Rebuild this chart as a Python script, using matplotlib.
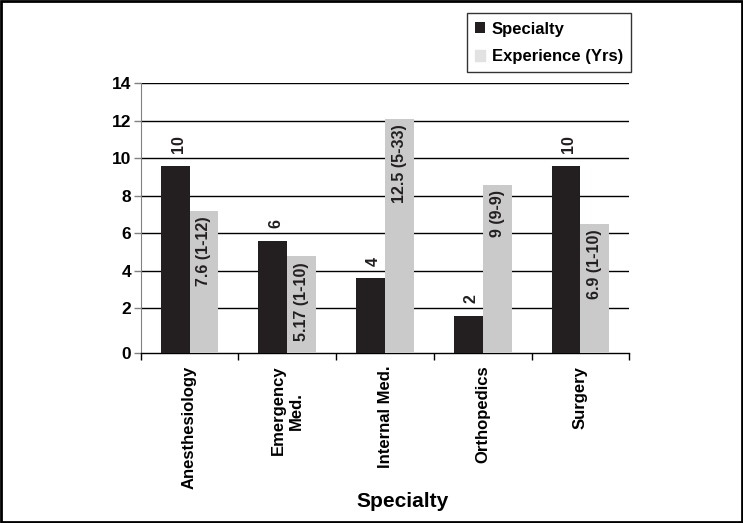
import matplotlib.pyplot as plt
import numpy as np

plt.rcParams['font.family'] = ['Liberation Sans', 'DejaVu Sans']
plt.rcParams['font.weight'] = 'bold'

categories = ['Anesthesiology', 'Emergency\nMed.', 'Internal Med.', 'Orthopedics', 'Surgery']
specialty = [10, 6, 4, 2, 10]
experience = [7.6, 5.17, 12.5, 9, 6.9]
range_labels = ['(1-12)', '(1-10)', '(5-33)', '(9-9)', '(1-10)']
yticks = [0, 2, 4, 6, 8, 10, 12, 14]

# the source chart draws its zero line a little below the gridline spacing
base = -0.4

fig = plt.figure(figsize=(7.43, 5.23), dpi=100)
ax = fig.add_axes([140.7 / 743, 1 - 353.3 / 523, (629.3 - 140.7) / 743, 270 / 523])

x = np.arange(len(categories))
w = 0.295
b1 = ax.bar(x - w / 2, specialty, w, bottom=base, color='#231f20', label='Specialty', zorder=3)
b2 = ax.bar(x + w / 2, experience, w, bottom=base, color='#cacaca', label='Experience (Yrs)', zorder=3)

for rect, v in zip(b1, specialty):
    ax.annotate(str(v), (rect.get_x() + rect.get_width() / 2 + 0.03, base + v),
                xytext=(0, 9), textcoords='offset points', rotation=90,
                ha='center', va='bottom', fontsize=11.5, fontweight='bold', color='#231f20')
for rect, v, r in zip(b2, experience, range_labels):
    ax.annotate(f'{v:g} {r}', (rect.get_x() + rect.get_width() / 2, base + v),
                xytext=(0, -4), textcoords='offset points', rotation=90,
                ha='center', va='top', fontsize=11.5, fontweight='bold', color='#231f20')

ax.set_xlim(-0.5, len(categories) - 0.5)
ax.set_ylim(base, 14)
ax.set_yticks([base] + yticks[1:])
ax.set_yticklabels([str(t) for t in yticks], fontweight='bold')
ax.tick_params(axis='y', labelsize=12.5, length=5, width=1, color='#808080', pad=2)
ax.set_xticks(np.arange(-0.5, len(categories), 1))
ax.set_xticklabels([])
ax.set_xticks(x, minor=True)
ax.set_xticklabels(categories, minor=True, rotation=90, fontsize=12, fontweight='bold',
                   va='top', ha='center', multialignment='center')
ax.tick_params(axis='x', which='major', length=5, width=1, direction='out')
ax.tick_params(axis='x', which='minor', length=0, pad=9)
for y in yticks[1:]:
    ax.axhline(y, color='black', linewidth=1, zorder=0)
ax.spines['top'].set_visible(False)
ax.spines['right'].set_visible(False)
ax.spines['left'].set_color('#808080')
ax.spines['bottom'].set_linewidth(1)
ax.set_xlabel('Specialty', fontsize=15, fontweight='bold')
ax.xaxis.set_label_coords(0.535, -0.515)

leg = fig.legend(loc='upper left', bbox_to_anchor=(466.7 / 743, 1 - 13.3 / 523),
                 frameon=True, fancybox=False, handlelength=0.6,
                 handleheight=0.6, handletextpad=0.4, borderpad=0.5, labelspacing=0.75,
                 borderaxespad=0, prop={'weight': 'bold', 'size': 12})
leg.get_frame().set_edgecolor('black')
leg.get_frame().set_linewidth(1)
leg.legend_handles[1].set_color('#e2e2e2')

fig.patches.append(plt.Rectangle((0.001, 0.001), 0.998, 0.997, transform=fig.transFigure,
                                 fill=False, edgecolor='black', linewidth=2))
fig.savefig('out.png', dpi=100)
